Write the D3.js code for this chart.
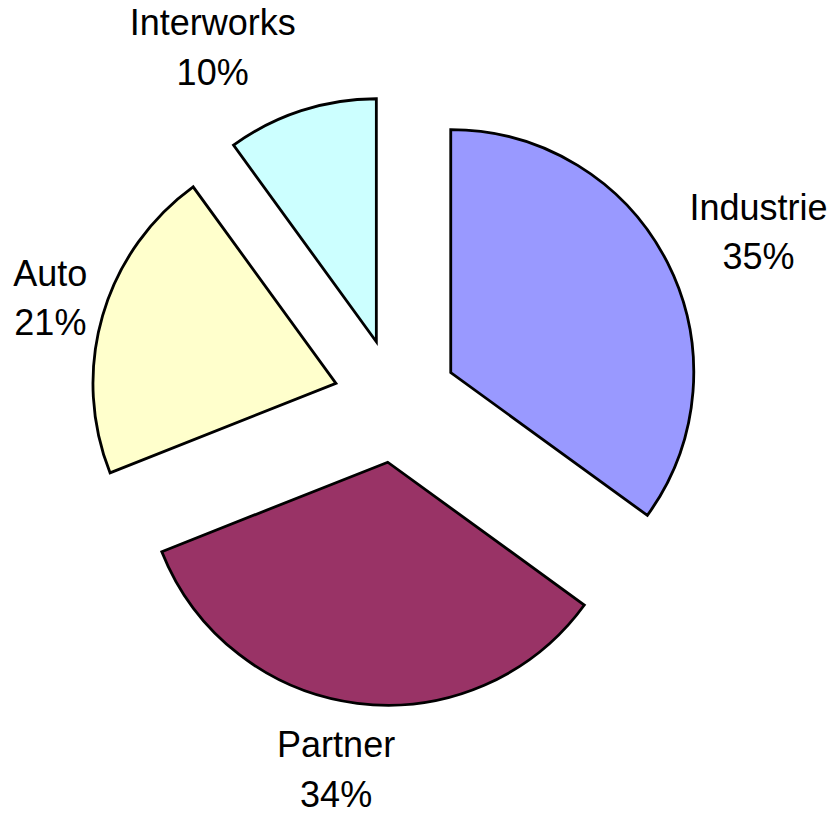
<!DOCTYPE html>
<html>
<head>
<meta charset="utf-8">
<script src="https://cdn.jsdelivr.net/npm/d3@7"></script>
<style>
    body { margin: 0; background: #fff; }
    svg { display: block; }
</style>
</head>
<body>
<div id="chart"></div>
<script>
const categories = ["Industrie", "Partner", "Auto", "Interworks"];
const shares = [35, 34, 21, 10];
const percentLabels = ["35%", "34%", "21%", "10%"];

const colors = { Industrie: "#9999FF", Partner: "#993366", Auto: "#FFFFCC", Interworks: "#CCFFFF" };
// small manual tweaks so labels sit where the original put them
const labelNudge = {
    Industrie: [22.7, 4.7],
    Partner: [-11.5, -10.5],
    Auto: [21.7, 3.4],
    Interworks: [-64.8, 10.1]
};

function createExplodedPie(selector = "#chart") {
    const width = 834;
    const height = 814;
    const cx = 395.5;
    const cy = 400.7;
    const radius = 243;
    const explode = 62;
    const labelRadius = 320;

    const data = categories.map((c, i) => ({ name: c, value: shares[i], label: percentLabels[i] }));

    const pie = d3.pie()
        .sort(null)
        .value(d => d.value)
        .startAngle(0)
        .endAngle(2 * Math.PI);

    const arc = d3.arc()
        .innerRadius(0)
        .outerRadius(radius);

    const arcs = pie(data);

    const svg = d3.select(selector)
        .html("")
        .append("svg")
        .attr("width", width)
        .attr("height", height);

    const root = svg.append("g")
        .attr("transform", `translate(${cx},${cy})`);

    const mid = d => (d.startAngle + d.endAngle) / 2;
    const offset = (d, r) => [Math.sin(mid(d)) * r, -Math.cos(mid(d)) * r];

    const slices = root.selectAll(".slice")
        .data(arcs)
        .join("g")
        .attr("class", "slice")
        .attr("transform", d => `translate(${offset(d, explode)})`);

    slices.append("path")
        .attr("d", arc)
        .attr("fill", d => colors[d.data.name])
        .attr("stroke", "#000")
        .attr("stroke-width", 2.8)
        .attr("stroke-linejoin", "miter");

    const labels = slices.append("text")
        .attr("text-anchor", "middle")
        .style("font-family", "'Liberation Sans', Arial, sans-serif")
        .style("font-size", "36px")
        .style("fill", "#000")
        .attr("transform", d => {
            const [x, y] = offset(d, labelRadius);
            const [nx, ny] = labelNudge[d.data.name];
            return `translate(${x + nx},${y + ny})`;
        });

    labels.append("tspan")
        .attr("x", 0)
        .attr("y", -12)
        .text(d => d.data.name);

    labels.append("tspan")
        .attr("x", 0)
        .attr("y", 37.5)
        .text(d => d.data.label);
}

createExplodedPie();
</script>
</body>
</html>
